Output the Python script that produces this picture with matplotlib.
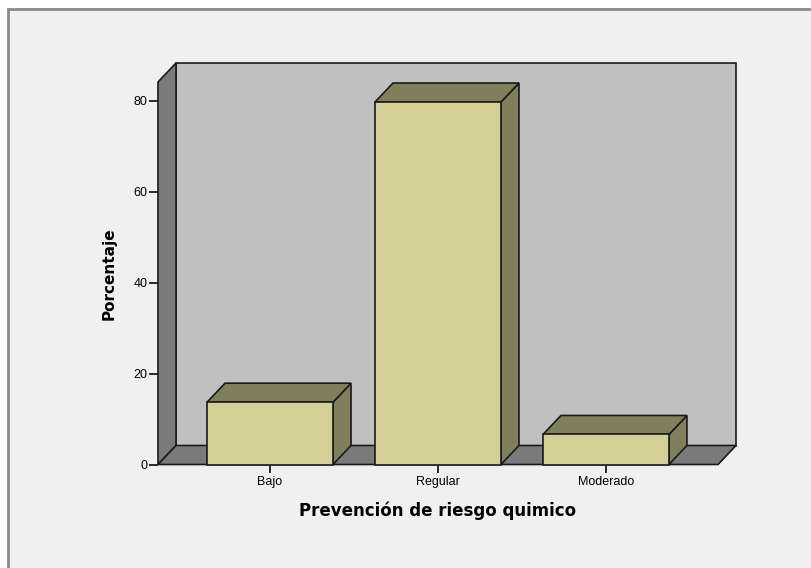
import matplotlib
matplotlib.use("Agg")
import matplotlib.pyplot as plt
from matplotlib.patches import Polygon, Rectangle
import numpy as np

plt.rcParams['font.family'] = ['Liberation Sans', 'DejaVu Sans']

# data
categorias = ["Bajo", "Regular", "Moderado"]
porcentaje = [13.7, 79.7, 6.6]
yticks = [0, 20, 40, 60, 80]

front_col = "#D4CF96"
side_col = "#817F5B"
wall_col = "#7B7B7B"
back_col = "#C0C0C0"

fig = plt.figure(figsize=(8.12, 5.68), dpi=100)
fig.patch.set_facecolor("white")

# grey panel with border (runs off the right/bottom edge)
fig.add_artist(Rectangle((8 / 812, -0.1), 1.2, 1 - 9 / 568 + 0.1,
                         transform=fig.transFigure, facecolor="#F0F0F0",
                         edgecolor="#8A8A8A", linewidth=2, zorder=-5))

ax = fig.add_axes([158 / 812, (568 - 464.5) / 568, 560 / 812, (464.5 - 82) / 568])
ax.set_facecolor("none")
for s in ax.spines.values():
    s.set_visible(False)

x = np.arange(len(categorias))
xmin, xmax = -0.667, len(categorias) - 1 + 0.667
ytop = 84.1
ax.set_xlim(xmin, xmax)
ax.set_ylim(0, ytop)

# depth offset (18 px right, 19 px up) converted to data units
p0 = ax.transData.inverted().transform((0, 0))
p1 = ax.transData.inverted().transform((18, 19))
dx, dy = p1 - p0

lw = 1.2
kw = dict(edgecolor="#1A1A1A", linewidth=lw, clip_on=False, joinstyle="miter")

# back wall, left wall, floor
ax.add_patch(Polygon([(xmin + dx, dy), (xmax + dx, dy), (xmax + dx, ytop + dy),
                      (xmin + dx, ytop + dy)], facecolor=back_col, zorder=1, **kw))
ax.add_patch(Polygon([(xmin, 0), (xmin + dx, dy), (xmin + dx, ytop + dy),
                      (xmin, ytop)], facecolor=wall_col, zorder=2, **kw))
ax.add_patch(Polygon([(xmin, 0), (xmax, 0), (xmax + dx, dy), (xmin + dx, dy)],
                     facecolor=wall_col, zorder=2, **kw))

w = 0.75
for xi, h in zip(x, porcentaje):
    x0, x1 = xi - w / 2, xi + w / 2
    ax.add_patch(Polygon([(x1, 0), (x1 + dx, dy), (x1 + dx, h + dy), (x1, h)],
                         facecolor=side_col, zorder=3, **kw))
    ax.add_patch(Polygon([(x0, h), (x1, h), (x1 + dx, h + dy), (x0 + dx, h + dy)],
                         facecolor=side_col, zorder=3, **kw))
    ax.add_patch(Polygon([(x0, 0), (x1, 0), (x1, h), (x0, h)],
                         facecolor=front_col, zorder=4, **kw))

ax.set_yticks(yticks)
ax.set_xticks(x)
ax.set_xticklabels(categorias)
ax.tick_params(axis="both", direction="out", length=6.5, width=1.3, color="#1A1A1A",
               labelsize=9, pad=1)
ax.tick_params(axis="x", length=6, pad=2)

ax.set_ylabel("Porcentaje", fontsize=11, fontweight="bold", family="DejaVu Sans",
              labelpad=12)
ax.set_xlabel("Prevención de riesgo quimico", fontsize=12, fontweight="bold",
              family="DejaVu Sans", labelpad=10)

fig.savefig("out.png", dpi=100, facecolor=fig.get_facecolor())
